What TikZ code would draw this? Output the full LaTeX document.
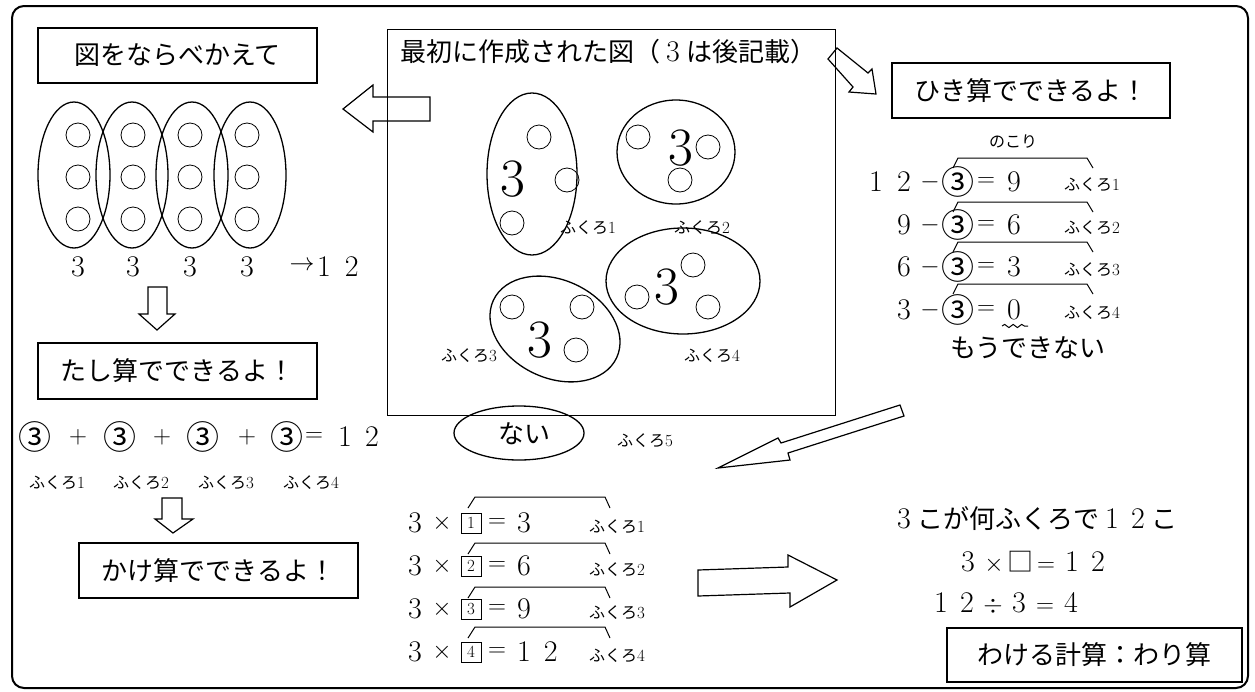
\documentclass[tikz,border=0pt]{standalone}
\usepackage{fontspec}
\newfontfamily\jp{Noto Sans CJK JP}
\usetikzlibrary{decorations.pathmorphing}
\newcommand\JL{\jp\fontsize{26}{30}\selectfont}
\newcommand\JS{\jp\fontsize{16}{20}\selectfont}
\newcommand\JC{\jp\fontsize{33}{36}\selectfont}
\newcommand\DG{\rmfamily\fontsize{30}{34}\selectfont}
\newcommand\DS{\rmfamily\fontsize{17}{20}\selectfont}
\newcommand\DB{\rmfamily\fontsize{54}{58}\selectfont}
\newcommand\fkr[1]{{\JS ふくろ\DS #1}}
\newcommand\fw[1]{\makebox[26pt]{#1}}
\begin{document}
\begin{tikzpicture}[x=1pt,y=-1pt,
  every node/.style={inner sep=0pt, outer sep=0pt},
  titlebox/.style={draw, line width=1.8pt, font=\JL},
  bag/.style={line width=1.3pt},
  ball/.style={line width=0.8pt},
  blockarrow/.style={line width=1.2pt, line join=miter},
  brk/.style={line width=1pt},
  dig/.style={font=\DG},
  circ/.style={font=\JC},
  lab/.style={font=\JS}
]
\useasboundingbox (0,0) rectangle (1255,691);
% outer frame
\draw[line width=2pt, rounded corners=12pt] (12,6) rectangle (1248,688);

% ---------- left column ----------
\node[titlebox, minimum width=279pt, minimum height=55pt] (bA) at (177.5,55.5) {図をならべかえて};
\foreach \cx in {74,132,192,250} \draw[bag] (\cx,175) ellipse (36pt and 73pt);
\foreach \cx in {78,133,190,247} \foreach \cy in {135,177,219} \draw[ball] (\cx,\cy) circle (12pt);
\foreach \cx [count=\i] in {78,133,190,247} \node[dig] (three\i) at (\cx,267) {3};
\node[font=\rmfamily\fontsize{27}{30}\selectfont] (tarr) at (302,266) {$\rightarrow$};
\node[dig] (t12) at (338,267) {1\hspace{14pt}2};

\draw[blockarrow] (148,287) -- (167,287) -- (167,314) -- (175,314) -- (157,330) -- (139,314) -- (148,314) -- cycle;

\node[titlebox, minimum width=279pt, minimum height=56pt] (bB) at (177.5,371) {たし算でできるよ！};

\foreach \cx [count=\i] in {35,120,203,287} \node[circ] (sc\i) at (\cx,437) {③};
\foreach \cx [count=\i] in {78,162,247} \node[dig] (sp\i) at (\cx,437) {$+$};
\node[dig] (seq) at (314,437) {$=$};
\node[dig] (s1) at (345,437) {1};
\node[dig] (s2) at (372,437) {2};
\foreach \cx [count=\i] in {57,141,226,311} \node (sf\i) at (\cx,483) {\fkr{\i}};

\draw[blockarrow] (162,498) -- (182,498) -- (182,519) -- (193,519) -- (173,533) -- (155,519) -- (162,519) -- cycle;

\node[titlebox, minimum width=279pt, minimum height=55pt] (bC) at (218.5,570.5) {かけ算でできるよ！};

% ---------- centre ----------
\node[draw, line width=0.9pt, minimum width=448pt, minimum height=386pt] (cbox) at (611,222) {};
\node[font=\JL, anchor=west] (ctitle) at (400,52) {最初に作成された図（\fw{\DG 3}は後記載）};

\draw[blockarrow] (430,97) -- (373,97) -- (373,85) -- (343,109) -- (373,132) -- (373,121) -- (430,121) -- cycle;

% bag 1
\draw[bag] (532,174) ellipse (45pt and 81pt);
\draw[ball] (539,137) circle (12pt) (567,180) circle (12pt) (512,223) circle (12pt);
\node[font=\DB] (g1) at (513,179) {3};
\node (gl1) at (588,228) {\fkr{1}};
% bag 2
\draw[bag] (676,152) ellipse (59pt and 52pt);
\draw[ball] (638,137) circle (12pt) (708,147) circle (12pt) (680,180) circle (12pt);
\node[font=\DB] (g2) at (681,148) {3};
\node (gl2) at (702,228) {\fkr{2}};
% bag 4
\draw[bag] (683,281) ellipse (77pt and 53pt);
\draw[ball] (693,265) circle (12pt) (637,297) circle (12pt) (708,307) circle (12pt);
\node[font=\DB] (g4) at (667,287) {3};
\node (gl4) at (712,356) {\fkr{4}};
% bag 3
\draw[bag, rotate around={-25:(555,329)}] (555,329) ellipse (68pt and 49pt);
\draw[ball] (512,307) circle (12pt) (582,307) circle (12pt) (576,350) circle (12pt);
\node[font=\DB] (g3) at (540,340) {3};
\node (gl3) at (469,356) {\fkr{3}};

% bag 5
\draw[bag] (519,433) ellipse (65pt and 27pt);
\node[font=\JL] (nai) at (524,434) {ない};
\node (gl5) at (645,441) {\fkr{5}};

% ---------- right column ----------
\draw[blockarrow] (828,59) -- (837,48) -- (868,73) -- (872,69) -- (876,94) -- (849,92) -- (853,87) -- cycle;
\node[titlebox, minimum width=278pt, minimum height=55pt] (bR) at (1031,90.5) {ひき算でできるよ！};
\node[lab] (nokori) at (1013,142) {のこり};

\node[dig] (r1a) at (876,182) {1};
\foreach \y/\a/\r/\t [count=\i] in {182/2/9/158, 225/9/6/202, 267/6/3/242, 310/3/0/284} {
  \node[dig] (ra\i) at (904,\y) {\a};
  \node[dig] (rm\i) at (930,\y) {$-$};
  \node[circ] (rc\i) at (958,\y) {③};
  \node[dig] (re\i) at (986,\y) {$=$};
  \node[dig] (rr\i) at (1014,\y) {\r};
  \node (rf\i) at (1092,\y+3) {\fkr{\i}};
  \draw[brk] (953,\t+10) -- (958,\t) -- (1087,\t) -- (1093,\t+10);
}
\draw[line width=1pt, decorate, decoration={snake, amplitude=1.6pt, segment length=8.5pt}] (1002,326) -- (1028,326);
\node[font=\JL] (mou) at (1028,348) {もうできない};

\draw[blockarrow] (900,405) -- (781,443) -- (778,438) -- (718,468) -- (790,460) -- (788,453) -- (904,416) -- cycle;

% ---------- bottom middle ----------
\foreach \y/\r/\t [count=\i] in {523/3/497, 566/6/543, 609/9/587, 652/{1\hspace{13pt}2}/627} {
  \node[dig] (m3\i) at (415,\y) {3};
  \node[dig] (mx\i) at (442,\y) {$\times$};
  \node[draw, line width=0.8pt, minimum size=20pt, font=\rmfamily\fontsize{17}{18}\selectfont] (mb\i) at (471,\y) {\i};
  \node[dig] (me\i) at (497,\y) {$=$};
  \node[dig, anchor=west] (mr\i) at (517,\y) {\r};
  \node (mf\i) at (617,\y+4) {\fkr{\i}};
  \draw[brk] (468,\t+11) -- (475,\t) -- (605,\t) -- (610,\t+11);
}

\draw[blockarrow] (698,570) -- (788,567) -- (788,555) -- (837,580) -- (790,607) -- (790,593) -- (698,596) -- cycle;

% ---------- bottom right ----------
\node[font=\JL] (q1) at (1034,519) {\fw{\DG 3}こが何ふくろで\fw{\DG 1}\fw{\DG 2}こ};
\node[font=\JL] (q2) at (1033,562) {\fw{\DG 3}\fw{\DG $\times$}\fw{□}\fw{\DG $=$}\fw{\DG 1}\fw{\DG 2}};
\node[font=\JL] (q3) at (1006,603) {\fw{\DG 1}\fw{\DG 2}\fw{\DG $\div$}\fw{\DG 3}\fw{\DG $=$}\fw{\DG 4}};
\node[titlebox, minimum width=295pt, minimum height=54pt] (bD) at (1094.5,655) {わける計算：わり算};
\end{tikzpicture}
\end{document}
